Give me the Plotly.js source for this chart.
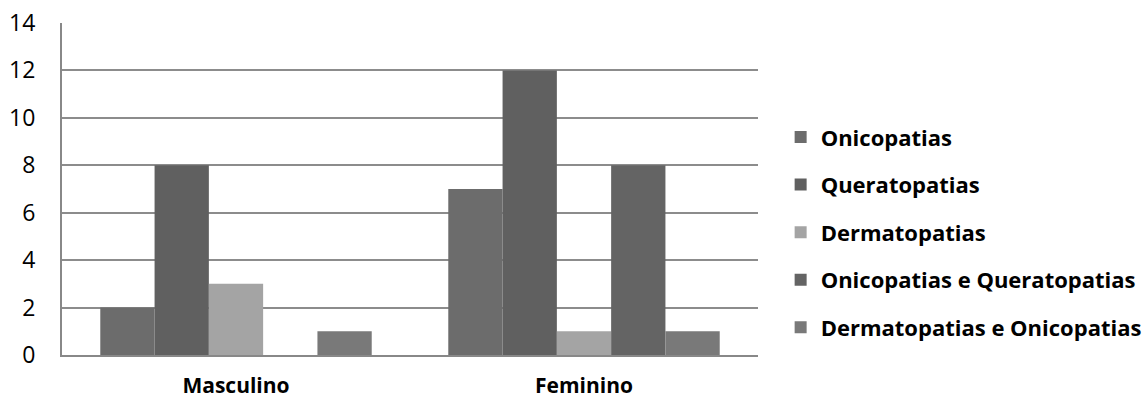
<!DOCTYPE html>
<html><head><meta charset="utf-8">
<script src="https://cdn.plot.ly/plotly-3.0.1.min.js"></script>
<style>body{margin:0;background:#fff}#c{width:1148px;height:400px}</style>
</head><body><div id="c"></div>
<script>
const categories = ["Masculino", "Feminino"];
const seriesNames = ["Onicopatias", "Queratopatias", "Dermatopatias", "Onicopatias e Queratopatias", "Dermatopatias e Onicopatias"];
const onicopatias = [2, 7];
const queratopatias = [8, 12];
const dermatopatias = [3, 1];
const onicQuerat = [0, 8];
const dermOnic = [1, 1];
const yTicks = [0, 2, 4, 6, 8, 10, 12, 14];

const values = [onicopatias, queratopatias, dermatopatias, onicQuerat, dermOnic];
const colors = ["#6c6c6c", "#606060", "#a4a4a4", "#646464", "#797979"];

const traces = values.map((v, i) => ({
  type: "bar",
  name: seriesNames[i],
  x: categories,
  y: v,
  legendgroup: "g" + i,
  marker: {color: colors[i], line: {width: 0}},
  hoverinfo: "none"
}));

const layout = {
  width: 1148, height: 400,
  margin: {l: 62, r: 390, t: 23, b: 45},
  paper_bgcolor: "#ffffff", plot_bgcolor: "#ffffff",
  barmode: "group",
  bargap: 0.22, bargroupgap: 0,
  font: {family: "'Open Sans', sans-serif", color: "#000000"},
  xaxis: {
    showgrid: false, zeroline: false,
    showline: true, linecolor: "#888888", linewidth: 2,
    ticks: "", ticklabelstandoff: 11,
    tickfont: {size: 21, family: "'Open Sans', sans-serif", weight: "bold", color: "#000"}
  },
  yaxis: {
    range: [0, 14], tickvals: yTicks,
    showgrid: true, gridcolor: "#8c8c8c", gridwidth: 2,
    zeroline: false,
    showline: true, linecolor: "#888888", linewidth: 2,
    ticks: "", ticklabelstandoff: 20,
    tickfont: {size: 23, family: "'Open Sans', sans-serif", color: "#000"}
  },
  legend: {
    xref: "container", yref: "paper",
    x: 0.680, xanchor: "left", y: 0.37, yanchor: "middle",
    font: {size: 22, family: "'Open Sans', sans-serif", weight: "bold", color: "#000"},
    tracegroupgap: 16,
    itemwidth: 30
  },
  showlegend: true
};

Plotly.newPlot("c", traces, layout, {staticPlot: true});
</script></body></html>
